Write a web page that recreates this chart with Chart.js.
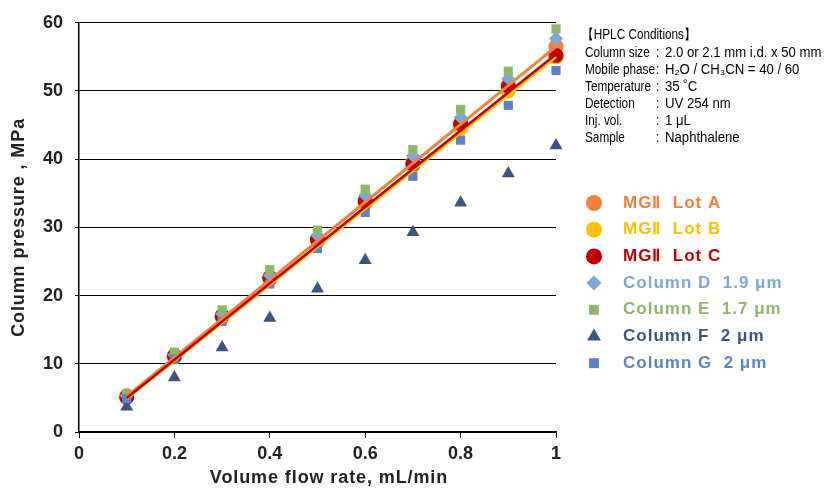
<!DOCTYPE html>
<html>
<head>
<meta charset="utf-8">
<script src="https://cdn.jsdelivr.net/npm/chart.js@4.4.1/dist/chart.umd.min.js"></script>
<style>
  html, body { margin: 0; padding: 0; background: #fff; }
  #wrap { width: 824px; height: 490px; }
</style>
</head>
<body>
<div id="wrap"><canvas id="pressureChart" width="824" height="490"></canvas></div>
<script>
// Données (débit en mL/min, pression en MPa)
const flowRates = [0.1, 0.2, 0.3, 0.4, 0.5, 0.6, 0.7, 0.8, 0.9, 1.0];
const lotA = [5.3, 11.2, 17.0, 22.7, 28.3, 34.0, 39.5, 45.0, 50.8, 56.5];
const lotB = [5.1, 11.0, 16.8, 22.4, 28.0, 33.5, 39.0, 44.5, 50.0, 55.0];
const lotC = [5.1, 11.1, 17.0, 22.6, 28.2, 33.8, 39.3, 45.2, 50.7, 55.2];
const columnD = [5.3, 11.3, 17.3, 23.0, 28.8, 34.7, 40.5, 46.1, 51.8, 57.7];
const columnE = [5.5, 11.7, 17.9, 23.8, 29.6, 35.6, 41.4, 47.3, 52.9, 59.1];
const columnF = [3.7, 8.0, 12.4, 16.7, 21.0, 25.2, 29.3, 33.6, 37.9, 42.0];
const columnG = [4.9, 10.7, 16.2, 21.7, 26.9, 32.2, 37.5, 42.8, 47.9, 53.0];

// Droites de tendance (extrémités lues à 0.1 et 1.0 mL/min)
const trendX = [0.1, 1.0];
const trendA = [5.2, 56.5];
const trendB = [4.9, 55.0];
const trendC = [5.0, 55.4];

const xTicks = [0, 0.2, 0.4, 0.6, 0.8, 1];
const yTicks = [0, 10, 20, 30, 40, 50, 60];

const legendLabels = ['MGⅡ  Lot A', 'MGⅡ  Lot B', 'MGⅡ  Lot C', 'Column D  1.9 μm', 'Column E  1.7 μm', 'Column F  2 μm', 'Column G  2 μm'];
const conditionKeys = ['Column size', 'Mobile phase', 'Temperature', 'Detection', 'Inj. vol.', 'Sample'];
const conditionValues = ['2.0 or 2.1 mm i.d. x 50 mm', 'H₂O / CH₃CN = 40 / 60', '35 ˚C', 'UV 254 nm', '1 μL', 'Naphthalene'];

const colors = {
    a: '#F4813A', b: '#FFC000', c: '#C00000',
    d: '#7EA6D8', e: '#8CB86A', f: '#3A5584', g: '#5B84C8'
};

function toPoints(xs, ys) {
    return xs.map((x, i) => ({ x: x, y: ys[i] }));
}

// Styles des marqueurs, dans l'ordre de la légende
const markers = [
    { style: 'circle', color: colors.a, radius: 7.5 },
    { style: 'circle', color: colors.b, radius: 7.5 },
    { style: 'circle', color: colors.c, radius: 7.5 },
    { style: 'rectRot', color: colors.d, radius: 7 },
    { style: 'rect', color: colors.e, radius: 6.5 },
    { style: 'triangle', color: colors.f, radius: 7.5 },
    { style: 'rect', color: colors.g, radius: 6.5 }
];
const seriesData = [lotA, lotB, lotC, columnD, columnE, columnF, columnG];

const pointSets = seriesData.map((ys, i) => ({
    type: 'scatter',
    label: legendLabels[i],
    data: toPoints(flowRates, ys),
    pointStyle: markers[i].style,
    pointRadius: markers[i].radius,
    pointHoverRadius: markers[i].radius,
    backgroundColor: markers[i].color,
    borderColor: markers[i].color,
    borderWidth: 0,
    showLine: false,
    clip: false,
    order: 10 - i
}));

const lineSets = [
    { data: trendA, color: colors.a, width: 3, order: 2 },
    { data: trendB, color: colors.b, width: 3, order: 1 },
    { data: trendC, color: colors.c, width: 2.5, order: 0 }
].map(l => ({
    type: 'line',
    label: '',
    data: toPoints(trendX, l.data),
    borderColor: l.color,
    borderWidth: l.width,
    pointRadius: 0,
    fill: false,
    clip: false,
    order: l.order
}));

// Plugin : titres des axes, encadré des conditions HPLC et légende
const sidePanel = {
    id: 'sidePanel',
    afterDraw(chart) {
        const ctx = chart.ctx;
        const area = chart.chartArea;
        ctx.save();
        ctx.textBaseline = 'middle';

        // titres des axes
        ctx.fillStyle = '#222';
        ctx.font = "bold 18px 'Liberation Sans', Arial, sans-serif";
        ctx.letterSpacing = '0.9px';
        ctx.textAlign = 'center';
        ctx.fillText('Volume flow rate, mL/min', 329, 478);
        ctx.save();
        ctx.translate(19, (area.top + area.bottom) / 2);
        ctx.rotate(-Math.PI / 2);
        ctx.fillText('Column pressure , MPa', 0, 0);
        ctx.restore();

        // conditions HPLC (police étroite simulée)
        ctx.textAlign = 'left';
        ctx.letterSpacing = '0px';
        ctx.fillStyle = '#000';
        ctx.font = "14px 'Liberation Sans', Arial, sans-serif";
        const sx = 0.84;
        const sv = 0.94;
        ctx.save();
        ctx.scale(sx, 1);
        ctx.fillText('【HPLC Conditions】', 582 / sx, 35);
        conditionKeys.forEach((k, i) => {
            const y = 53 + i * 17;
            ctx.fillText(k, 585 / sx, y);
            ctx.fillText(':', 656 / sx, y);
        });
        ctx.restore();
        ctx.save();
        ctx.scale(sv, 1);
        conditionValues.forEach((v, i) => {
            ctx.fillText(v, 665 / sv, 53 + i * 17);
        });
        ctx.restore();

        // légende
        ctx.font = "bold 17px 'Liberation Sans', Arial, sans-serif";
        ctx.letterSpacing = '1px';
        legendLabels.forEach((label, i) => {
            const y = 203 + i * 26.7;
            const m = markers[i];
            ctx.fillStyle = m.color;
            ctx.strokeStyle = m.color;
            Chart.helpers.drawPoint(ctx, { pointStyle: m.style, radius: m.radius + 0.5, borderWidth: 0 }, 594, y);
            ctx.fillStyle = m.color;
            ctx.fillText(label, 623, y);
        });
        ctx.restore();
    }
};

const axisFont = { family: "'Liberation Sans', Arial, sans-serif", size: 18, weight: 'bold' };

new Chart(document.getElementById('pressureChart'), {
    type: 'scatter',
    data: { datasets: [...lineSets, ...pointSets] },
    options: {
        responsive: false,
        animation: false,
        layout: { padding: { top: 22, right: 268, left: 0, bottom: 0 } },
        plugins: {
            legend: { display: false },
            tooltip: { enabled: false }
        },
        scales: {
            x: {
                type: 'linear',
                min: 0,
                max: 1,
                afterBuildTicks(scale) { scale.ticks = xTicks.map(v => ({ value: v })); },
                afterFit(scale) { scale.height = 58; },
                ticks: {
                    color: '#222',
                    font: axisFont,
                    padding: 5,
                    callback: v => String(Number(v.toFixed(1)))
                },
                grid: { drawOnChartArea: false, drawTicks: true, tickLength: 6, color: '#000' },
                border: { color: '#000', width: 1.5 }
            },
            y: {
                min: 0,
                max: 60,
                afterBuildTicks(scale) { scale.ticks = yTicks.map(v => ({ value: v })); },
                afterFit(scale) { scale.width = 79; },
                ticks: { color: '#222', font: axisFont, padding: 12 },
                grid: { color: '#000', lineWidth: 1, drawTicks: true, tickLength: 4 },
                border: { color: '#000', width: 1.5 }
            }
        }
    },
    plugins: [sidePanel]
});
</script>
</body>
</html>
